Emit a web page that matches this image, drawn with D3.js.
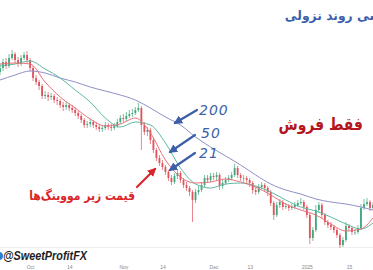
<!DOCTYPE html>
<html>
<head>
<meta charset="utf-8">
<script src="https://cdnjs.cloudflare.com/ajax/libs/d3/7.8.5/d3.min.js"></script>
<style>
  body { margin: 0; background: #fff; }
  .axis text { font-family: "Liberation Sans", sans-serif; font-size: 5px; fill: #8a8a8a; }
  .axis path, .axis line { display: none; }
</style>
</head>
<body>
<div class="chart"></div>
<script>
// daily candles, Sep 21 2024 -> Jan 23 2025
var startDate = new Date(2024, 8, 21);
var firstOpen = 228;
var closes = [232,238,234,242,246,240,236,242,245,240,
  232,222,218,214,204,205,203,204,200,199,
  195,193,195,192,190,187,184,180,175,176,
  178,175,173,171,172,175,173,172,174,178,
  182,181,184,186,187,190,192,175,168,170,
  160,150,142,137,133,128,122,118,124,127,
  120,115,112,108,100,108,110,115,122,120,
  124,123,125,114,117,120,122,125,132,125,
  122,122,120,117,110,108,113,115,112,108,
  97,85,95,98,93,94,92,93,95,97,
  98,93,85,62,70,90,95,85,78,75,
  73,70,65,55,60,74,72,68,68,72,
  92,96,98,92,95];
var highs = [236,241,242,246,250,248,243,245,248,249,
  242,234,225,220,216,209,208,207,206,203,
  201,198,198,197,195,193,189,186,182,179,
  181,180,178,176,175,178,177,176,177,181,
  185,186,188,190,191,193,197,194,178,173,
  172,162,152,145,140,135,130,125,127,130,
  129,122,118,114,110,111,114,118,125,125,
  127,127,128,127,120,123,125,128,136,134,
  127,125,124,122,119,113,116,118,117,114,
  110,99,98,101,100,97,96,96,98,100,
  102,100,95,87,73,95,98,97,87,80,
  78,75,72,67,63,78,76,74,71,75,
  96,101,102,100,98];
var lows = [225,229,231,232,240,237,233,234,240,237,
  229,219,215,210,201,201,199,200,197,195,
  192,189,190,189,187,184,181,177,172,172,
  173,172,170,168,168,170,170,169,170,172,
  176,178,179,182,183,185,188,150,165,164,
  156,147,139,134,130,125,119,115,116,121,
  117,112,109,104,78,97,105,108,113,117,
  118,120,120,110,111,115,118,120,123,122,
  119,118,117,113,106,105,106,111,109,104,
  94,80,83,92,90,91,89,90,91,93,
  95,90,82,56,59,68,87,82,75,72,
  70,67,62,52,53,58,69,65,65,66,
  70,90,94,89,90];

// moving averages read every 5 candles
var maIndex = [0,5,10,15,20,25,30,35,40,45,50,55,60,65,70,75,80,85,90,95,100,105,110,115,120,124];
var ma21 = [236,237,236,218,203,192,181,174,176,182,167,140,123,117,118,121,118,113,105,96,90,85,76,69,71,82];
var ma50 = [234,236,239,231,222,210,198,182,173,178,175,157,132,116,112,116,117,114,108,100,93,89,83,76,71,77];
var ma200 = [220,225,229,227,222,218,213,209,205,200,192,183,175,163,153,144,135,125,116,110,106,101,98,96,93,90];

var tickDates = [new Date(2024,9,1), new Date(2024,9,14), new Date(2024,10,1), new Date(2024,10,14),
  new Date(2024,11,1), new Date(2024,11,13), new Date(2025,0,1), new Date(2025,0,15)];
var tickLabels = ["Oct", "14", "Nov", "14", "Dec", "13", "2025", "15"];

var svgWidth = 373, svgHeight = 270;
var svg = d3.select(".chart").append("svg")
  .attr("width", svgWidth).attr("height", svgHeight)
  .style("display", "block");
svg.append("rect").attr("width", svgWidth).attr("height", svgHeight).attr("fill", "#fff");

function dayDate(i) { return d3.timeDay.offset(startDate, i); }

var x = d3.scaleTime()
  .domain([startDate, new Date(2025, 0, 23)])
  .range([0, 373]);
var y = d3.scaleLinear().domain([50, 260]).range([250, 40]);

var candles = closes.map(function (c, i) {
  return { date: dayDate(i), open: i ? closes[i - 1] : firstOpen, close: c, high: highs[i], low: lows[i] };
});

// faint pane border
svg.append("line").attr("x1", 0).attr("x2", 373).attr("y1", 247.5).attr("y2", 247.5)
  .attr("stroke", "#eeeeee").attr("stroke-width", 1);

// x axis
svg.append("g").attr("class", "axis")
  .attr("transform", "translate(0,262)")
  .call(d3.axisBottom(x).tickValues(tickDates).tickSize(0)
    .tickFormat(function (d, i) { return tickLabels[i]; }));

// candles
var upCol = "#3fa77d", downCol = "#e0525c";
var cg = svg.append("g");
cg.selectAll("line").data(candles).enter().append("line")
  .attr("x1", d => x(d.date)).attr("x2", d => x(d.date))
  .attr("y1", d => y(d.high)).attr("y2", d => y(d.low))
  .attr("stroke", d => d.close >= d.open ? upCol : downCol)
  .attr("stroke-width", 0.7);
cg.selectAll("rect").data(candles).enter().append("rect")
  .attr("x", d => x(d.date) - 0.9).attr("width", 1.8)
  .attr("y", d => y(Math.max(d.open, d.close)))
  .attr("height", d => Math.max(0.6, Math.abs(y(d.open) - y(d.close))))
  .attr("fill", d => d.close >= d.open ? upCol : downCol);

// moving averages
function maLine(vals, col) {
  var pts = maIndex.map(function (i, k) { return { date: dayDate(i), v: vals[k] }; });
  svg.append("path").datum(pts)
    .attr("fill", "none").attr("stroke", col).attr("stroke-width", 1)
    .attr("d", d3.line().x(d => x(d.date)).y(d => y(d.v)).curve(d3.curveMonotoneX));
}
maLine(ma200, "#8e90c6");
maLine(ma50, "#5db8a3");
maLine(ma21, "#e8707a");

// arrow markers
var defs = svg.append("defs");
function marker(id, col) {
  defs.append("marker").attr("id", id).attr("viewBox", "0 0 10 10")
    .attr("refX", 8).attr("refY", 5).attr("markerWidth", 4).attr("markerHeight", 4)
    .attr("orient", "auto")
    .append("path").attr("d", "M0,0L10,5L0,10z").attr("fill", col);
}
var blue = "#3d5fa9", red = "#d8262b";
marker("ab", blue);
marker("ar", red);

var blueArrows = [[197, 110, 175, 123], [195, 135, 170, 152], [195, 153, 170, 170]];
svg.selectAll(".barrow").data(blueArrows).enter().append("line")
  .attr("x1", d => d[0]).attr("y1", d => d[1]).attr("x2", d => d[2]).attr("y2", d => d[3])
  .attr("stroke", blue).attr("stroke-width", 2.2).attr("stroke-linecap", "round")
  .attr("marker-end", "url(#ab)");

var maLabels = [["200", 199, 115], ["50", 201, 138], ["21", 199, 158]];
svg.selectAll(".malab").data(maLabels).enter().append("text")
  .attr("x", d => d[1]).attr("y", d => d[2])
  .attr("font-family", "DejaVu Sans").attr("font-style", "italic")
  .attr("font-size", 14).attr("letter-spacing", 1).attr("fill", blue)
  .text(d => d[0]);

svg.append("line").attr("x1", 137).attr("y1", 187).attr("x2", 155).attr("y2", 169)
  .attr("stroke", red).attr("stroke-width", 2.2).attr("stroke-linecap", "round")
  .attr("marker-end", "url(#ar)");

// persian notes (title runs off the right edge, as in the crop)
svg.append("text")
  .attr("transform", "translate(401,20) scale(0.95,1)").attr("text-anchor", "end")
  .attr("font-family", "DejaVu Sans").attr("font-weight", "bold")
  .attr("font-size", 13).attr("fill", blue)
  .text("بررسی روند نزولی");

svg.append("text")
  .attr("transform", "translate(363,130) scale(0.82,1)").attr("text-anchor", "end")
  .attr("font-family", "DejaVu Sans").attr("font-weight", "bold")
  .attr("font-size", 17).attr("fill", "#b3161c")
  .text("فقط فروش");

svg.append("text")
  .attr("transform", "translate(135,200) scale(0.83,1)").attr("text-anchor", "end")
  .attr("font-family", "DejaVu Sans").attr("font-weight", "bold")
  .attr("font-size", 13).attr("fill", red)
  .text("قیمت زیر مووینگ\u200cها");

// watermark
svg.append("circle").attr("cx", -1).attr("cy", 256).attr("r", 4).attr("fill", "#2f7fd0");
svg.append("text").attr("x", 3).attr("y", 260)
  .attr("font-family", "Liberation Sans").attr("font-weight", "bold").attr("font-style", "italic")
  .attr("font-size", 12).attr("fill", "#1e1e1e")
  .attr("textLength", 84).attr("lengthAdjust", "spacingAndGlyphs")
  .text("@SweetProfitFX");
</script>
</body>
</html>
